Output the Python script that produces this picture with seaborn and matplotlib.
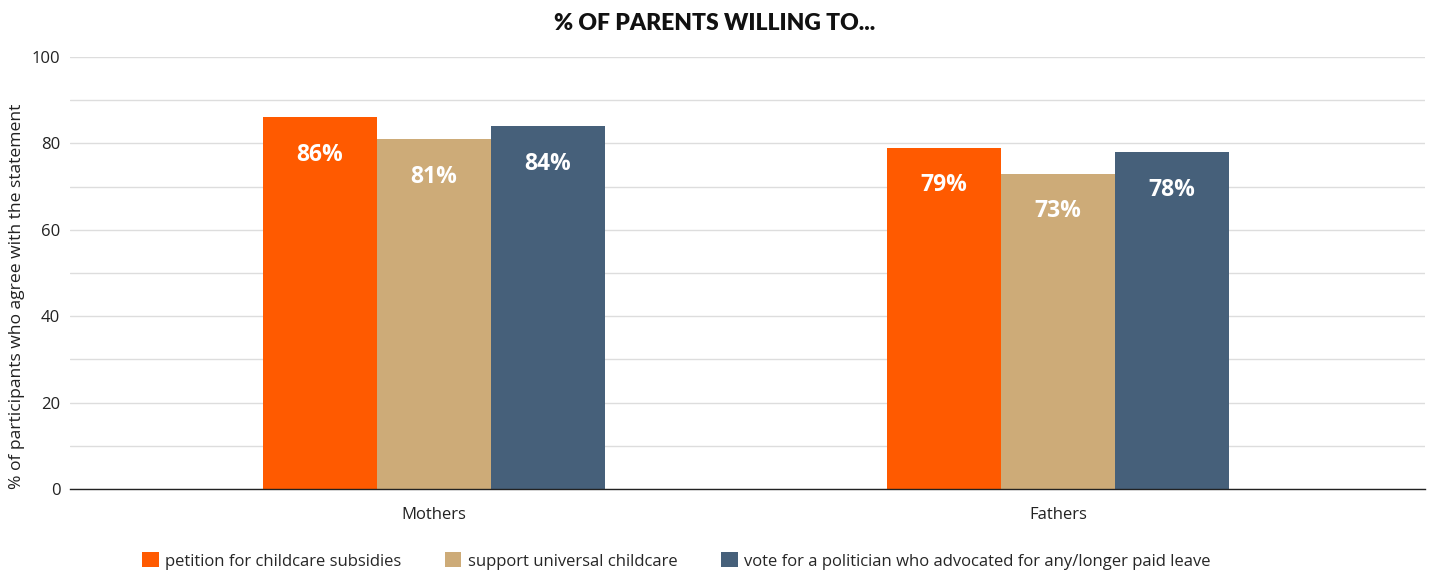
import matplotlib
matplotlib.use("Agg")
import matplotlib.pyplot as plt
import seaborn as sns
import pandas as pd

groups = ["Mothers", "Fathers"]
series = ["petition for childcare subsidies", "support universal childcare",
          "vote for a politician who advocated for any/longer paid leave"]
petition = [86, 79]
universal = [81, 73]
vote = [84, 78]
colors = ["#ff5a00", "#cdab78", "#46607a"]

rows = []
for s, vals in zip(series, [petition, universal, vote]):
    for g, v in zip(groups, vals):
        rows.append({"group": g, "series": s, "value": v})
df = pd.DataFrame(rows)

sns.set_theme(style="white")
plt.rcParams['font.family'] = ['Open Sans', 'DejaVu Sans']

fig = plt.figure(figsize=(14.3, 5.7), dpi=100)
ax = fig.add_axes([70/1430, 1-489/570, 1355/1430, 432/570])

sns.barplot(data=df, x="group", y="value", hue="series", order=groups,
            hue_order=series, palette=colors, width=0.547, ax=ax,
            saturation=1, legend=True, linewidth=0, edgecolor="none")

ax.set_ylim(0, 100)
ax.set_xlim(-0.583, 1.588)
ax.set_yticks(range(0, 101, 20))
ax.set_yticks(range(0, 101, 10), minor=True)
ax.grid(axis="y", which="both", color="#dddddd", linewidth=1)
ax.set_axisbelow(True)
for sp in ["top", "right", "left"]:
    ax.spines[sp].set_visible(False)
ax.spines["bottom"].set_color("#222222")
ax.spines["bottom"].set_linewidth(1)
ax.tick_params(axis="y", which="both", length=0, labelsize=12, pad=7, colors="#222222")
ax.tick_params(axis="x", length=0, labelsize=12, pad=13, colors="#222222")
ax.set_xlabel("")
ax.set_ylabel("% of participants who agree with the statement", fontsize=12.6, color="#222222")
ax.yaxis.set_label_coords(-0.0335, 0.445)

for cont in ax.containers:
    for bar in cont:
        h = bar.get_height()
        ax.annotate(f"{h:.0f}%", (bar.get_x() + bar.get_width()/2, h),
                    xytext=(0, -27), textcoords="offset points",
                    ha="center", va="center", color="white",
                    fontsize=16.5, fontweight="bold", family=["Open Sans", "DejaVu Sans"])

fig.text(0.5, 1-24/570, "% OF PARENTS WILLING TO...", ha="center", va="center",
         fontsize=16.5, fontweight="heavy", family=["Lato", "DejaVu Sans"], color="#111111")

handles, labels = ax.get_legend_handles_labels()
ax.get_legend().remove()
fig.legend(handles, labels, loc="center", bbox_to_anchor=(0.473, 1-561/570), ncol=3,
           frameon=False, fontsize=12, handlelength=1.0, handleheight=1.0,
           handletextpad=0.4, columnspacing=2.6)

fig.savefig("out.png", dpi=100, facecolor="white")
